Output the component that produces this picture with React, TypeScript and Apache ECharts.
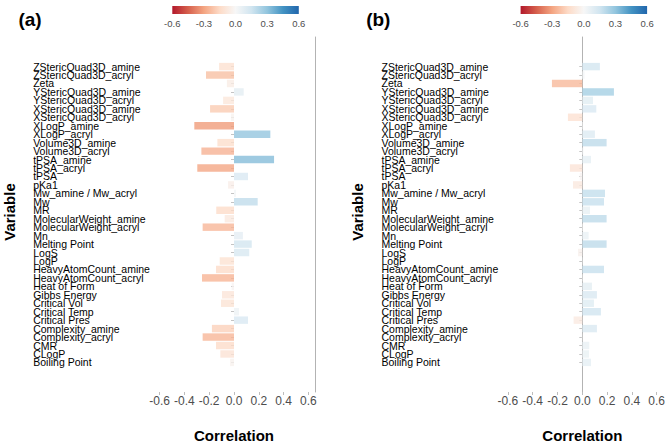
import React, { useEffect, useRef } from 'react';
import * as echarts from 'echarts';

const categories: string[] = [
  'ZStericQuad3D_amine', 'ZStericQuad3D_acryl', 'Zeta', 'YStericQuad3D_amine', 'YStericQuad3D_acryl',
  'XStericQuad3D_amine', 'XStericQuad3D_acryl', 'XLogP_amine', 'XLogP_acryl', 'Volume3D_amine',
  'Volume3D_acryl', 'tPSA_amine', 'tPSA_acryl', 'tPSA', 'pKa1', 'Mw_amine / Mw_acryl', 'Mw', 'MR',
  'MolecularWeight_amine', 'MolecularWeight_acryl', 'Mn', 'Melting Point', 'LogS', 'LogP',
  'HeavyAtomCount_amine', 'HeavyAtomCount_acryl', 'Heat of Form', 'Gibbs Energy', 'Critical Vol',
  'Critical Temp', 'Critical Pres', 'Complexity_amine', 'Complexity_acryl', 'CMR', 'CLogP', 'Boiling Point',
];

// panel (a)
const corrA: number[] = [
  -0.12, -0.226, -0.057, 0.078, -0.088, -0.193, -0.025, -0.32, 0.293, -0.134,
  -0.263, 0.323, -0.296, 0.113, -0.048, 0.016, 0.191, -0.143, -0.075, -0.253,
  0.072, 0.143, 0.123, -0.115, -0.145, -0.258, -0.019, -0.097, -0.105, 0.04,
  0.113, -0.178, -0.253, -0.145, -0.11, -0.032,
];

// panel (b)
const corrB: number[] = [
  0.142, 0.019, -0.245, 0.255, 0.086, 0.113, -0.116, 0.005, 0.102, 0.196,
  0.01, 0.07, -0.1, -0.02, -0.075, 0.183, 0.175, 0.062, 0.196, 0.005,
  0.051, 0.196, -0.035, 0.003, 0.175, 0.004, 0.078, 0.118, 0.094, 0.15,
  -0.07, 0.118, -0.004, 0.056, 0.054, 0.07,
];

const colorbarTicks: number[] = [-0.6, -0.3, 0, 0.3, 0.6];
const panelTags: string[] = ['(a)', '(b)'];
const rdbu: string[] = ['#b2182b', '#d6604d', '#f4a582', '#fddbc7', '#f7f7f7', '#d1e5f0', '#92c5de', '#4393c3', '#2166ac'];

const FONT = "'Liberation Sans', Arial, Helvetica, sans-serif";
const PAD = 3;
const padded: string[] = [
  ...Array.from({ length: PAD }, (_, i) => `__padTop${i}`),
  ...categories,
  ...Array.from({ length: PAD }, (_, i) => `__padBot${i}`),
];
const isPad = (v: string) => typeof v === 'string' && v.startsWith('__pad');

const GRID_TOP = 37;
const GRID_H = 366;
const GRID_W = 148.8;
const panelLeft = [159.6, 507.9];
const SHIFT = panelLeft[1] - panelLeft[0];

function fmt(v: number) {
  return Math.abs(v) < 1e-9 ? '0.0' : v.toFixed(1);
}

function buildOption() {
  const grids = panelLeft.map((left) => ({ left, top: GRID_TOP, width: GRID_W, height: GRID_H, containLabel: false }));

  const xAxes = panelLeft.map((_, gi) => ({
    gridIndex: gi,
    type: 'value',
    min: -0.6,
    max: 0.6,
    interval: 0.2,
    splitLine: { show: false },
    axisLine: { show: false },
    axisTick: { show: true, length: 3, lineStyle: { color: '#bdbdbd' } },
    axisLabel: { margin: 3, fontSize: 12, color: '#4d4d4d', fontFamily: FONT, formatter: fmt },
    name: 'Correlation',
    nameLocation: 'middle',
    nameGap: 36,
    nameTextStyle: { fontSize: 15, fontWeight: 'bold', color: '#000', fontFamily: FONT },
  }));

  const leftAxis = (gi: number, showLine: boolean) => ({
    gridIndex: gi,
    type: 'category',
    data: padded,
    inverse: true,
    position: 'left',
    offset: 7.4,
    axisLine: { show: showLine, lineStyle: { color: '#b3b3b3', width: 1 } },
    axisTick: {
      show: true,
      length: 3,
      alignWithLabel: true,
      interval: (_i: number, v: string) => !isPad(v),
      lineStyle: { color: '#c4c4c4' },
    },
    axisLabel: {
      interval: 0,
      align: 'left',
      margin: 119,
      fontSize: 10.5,
      color: '#000',
      fontFamily: FONT,
      formatter: (v: string) => (isPad(v) ? '' : v),
    },
    splitLine: { show: false },
  });

  const yAxes = [
    leftAxis(0, false),
    {
      gridIndex: 0,
      type: 'category',
      data: padded,
      inverse: true,
      position: 'right',
      offset: 7.2,
      axisLine: { show: true, lineStyle: { color: '#b3b3b3', width: 1 } },
      axisTick: { show: false },
      axisLabel: { show: false },
      splitLine: { show: false },
    },
    leftAxis(1, true),
  ];

  const toData = (vals: number[]) => vals.map((v, i) => [v, i + PAD]);

  const series = [
    {
      type: 'bar',
      xAxisIndex: 0,
      yAxisIndex: 0,
      data: toData(corrA),
      encode: { x: 0, y: 1 },
      barCategoryGap: '12%',
      itemStyle: { opacity: 0.8 },
    },
    {
      type: 'bar',
      xAxisIndex: 1,
      yAxisIndex: 2,
      data: toData(corrB),
      encode: { x: 0, y: 1 },
      barCategoryGap: '12%',
      itemStyle: { opacity: 0.8 },
    },
  ];

  const stops = rdbu.map((c, i) => ({ offset: i / (rdbu.length - 1), color: c }));
  const graphic: any[] = [];
  const cbLeft = 172.3;
  const cbWidth = 126.5;
  [0, 1].forEach((p) => {
    const dx = p * SHIFT;
    graphic.push({
      type: 'rect',
      shape: { x: cbLeft + dx, y: 6, width: cbWidth, height: 8 },
      style: { fill: new echarts.graphic.LinearGradient(0, 0, 1, 0, stops) },
      silent: true,
    });
    colorbarTicks.forEach((t) => {
      graphic.push({
        type: 'text',
        x: cbLeft + dx + ((t + 0.6) / 1.2) * cbWidth,
        y: 23,
        style: {
          text: fmt(t),
          fontSize: 9.5,
          fontFamily: FONT,
          fill: '#4d4d4d',
          textAlign: 'center',
          textVerticalAlign: 'middle',
        },
        silent: true,
      });
    });
    graphic.push({
      type: 'text',
      x: 30 + dx,
      y: 19,
      style: {
        text: panelTags[p],
        fontSize: 19,
        fontWeight: 'bold',
        fontFamily: FONT,
        fill: '#000',
        textAlign: 'center',
        textVerticalAlign: 'middle',
      },
      silent: true,
    });
    graphic.push({
      type: 'text',
      x: 9 + dx,
      y: 212,
      rotation: Math.PI / 2,
      style: {
        text: 'Variable',
        fontSize: 15,
        fontWeight: 'bold',
        fontFamily: FONT,
        fill: '#000',
        textAlign: 'center',
        textVerticalAlign: 'middle',
      },
      silent: true,
    });
  });

  return {
    animation: false,
    backgroundColor: '#ffffff',
    grid: grids,
    xAxis: xAxes,
    yAxis: yAxes,
    visualMap: [
      {
        type: 'continuous',
        show: false,
        min: -0.6,
        max: 0.6,
        dimension: 0,
        seriesIndex: [0, 1],
        inRange: { color: rdbu },
      },
    ],
    series,
    graphic,
  };
}

export default function App() {
  const ref = useRef<HTMLDivElement>(null);
  useEffect(() => {
    if (!ref.current) return;
    const chart = echarts.init(ref.current, null, { renderer: 'svg' });
    chart.setOption(buildOption() as any);
    return () => chart.dispose();
  }, []);
  return (
    <div
      ref={ref}
      style={{ position: 'absolute', left: 0, top: 0, width: 669, height: 448, background: '#fff' }}
    />
  );
}
